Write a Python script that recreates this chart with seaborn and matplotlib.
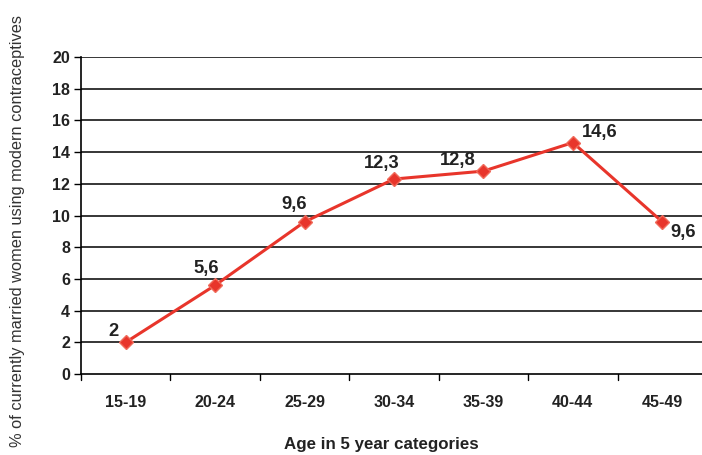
import matplotlib
matplotlib.use("Agg")
import matplotlib.pyplot as plt
import seaborn as sns
import pandas as pd

age_groups = ["15-19", "20-24", "25-29", "30-34", "35-39", "40-44", "45-49"]
usage_pct = [2.0, 5.6, 9.6, 12.3, 12.8, 14.6, 9.6]
value_labels = ["2", "5,6", "9,6", "12,3", "12,8", "14,6", "9,6"]
y_ticks = [0, 2, 4, 6, 8, 10, 12, 14, 16, 18, 20]

# label offsets (pixels) relative to each point
label_offsets = [(-12, 11), (-9, 17), (-10, 17), (-12, 16), (-26, 11), (27, 10), (21, -11)]

sns.set_theme(style="white")
plt.rcParams["font.family"] = ["Liberation Sans", "DejaVu Sans"]

df = pd.DataFrame({"age": age_groups, "pct": usage_pct})
df["pos"] = range(len(df))

fig = plt.figure(figsize=(7.02, 4.55), dpi=100)
W, H = 702, 455
left, right, top, bottom = 81, 707, 57, 374
ax = fig.add_axes([left / W, 1 - bottom / H, (right - left) / W, (bottom - top) / H])

red = "#e8352b"
sns.lineplot(data=df, x="pos", y="pct", ax=ax, color=red, linewidth=2.2,
             marker="D", markersize=7, markerfacecolor=red,
             markeredgecolor="#f06a5a", markeredgewidth=1.0, zorder=3)

ax.set_xlim(-0.5, len(age_groups) - 0.5)
ax.set_ylim(0, 20)
ax.set_yticks(y_ticks)
ax.set_yticklabels([str(t) for t in y_ticks], fontsize=11.5, fontweight="bold", color="#222222")
ax.set_xticks(range(len(age_groups)))
ax.set_xticklabels(age_groups, fontsize=11.5, fontweight="bold", color="#222222")
ax.tick_params(axis="x", length=0, pad=15)
ax.tick_params(axis="y", length=5, width=1, color="black", direction="out", left=True, pad=3)

# category boundary ticks on x axis
for b in [i - 0.5 for i in range(len(age_groups) + 1)]:
    ax.plot([b, b], [0, -0.02], transform=ax.get_xaxis_transform(), color="black",
            lw=1, clip_on=False)

for yv in y_ticks[1:]:
    ax.axhline(yv, color="black", lw=1.1, zorder=1)

for s in ["top", "right"]:
    ax.spines[s].set_visible(False)
for s in ["left", "bottom"]:
    ax.spines[s].set_color("black")
    ax.spines[s].set_linewidth(1.2)

for i, (v, lab) in enumerate(zip(usage_pct, value_labels)):
    dx, dy = label_offsets[i]
    ax.annotate(lab, (i, v), xytext=(dx, dy), textcoords="offset pixels",
                ha="center", va="center", fontsize=13.2, fontweight="bold", color="#222222")

ax.set_xlabel("")
ax.set_ylabel("")
fig.text(18 / W, 1 - 231 / H, "% of currently married women using modern contraceptives",
         rotation=90, ha="center", va="center", fontsize=11.8, color="#333333")
fig.text(381 / W, 1 - 445 / H, "Age in 5 year categories", ha="center", va="center",
         fontsize=12.2, fontweight="bold", color="#222222")

fig.savefig("out.png", dpi=100)
